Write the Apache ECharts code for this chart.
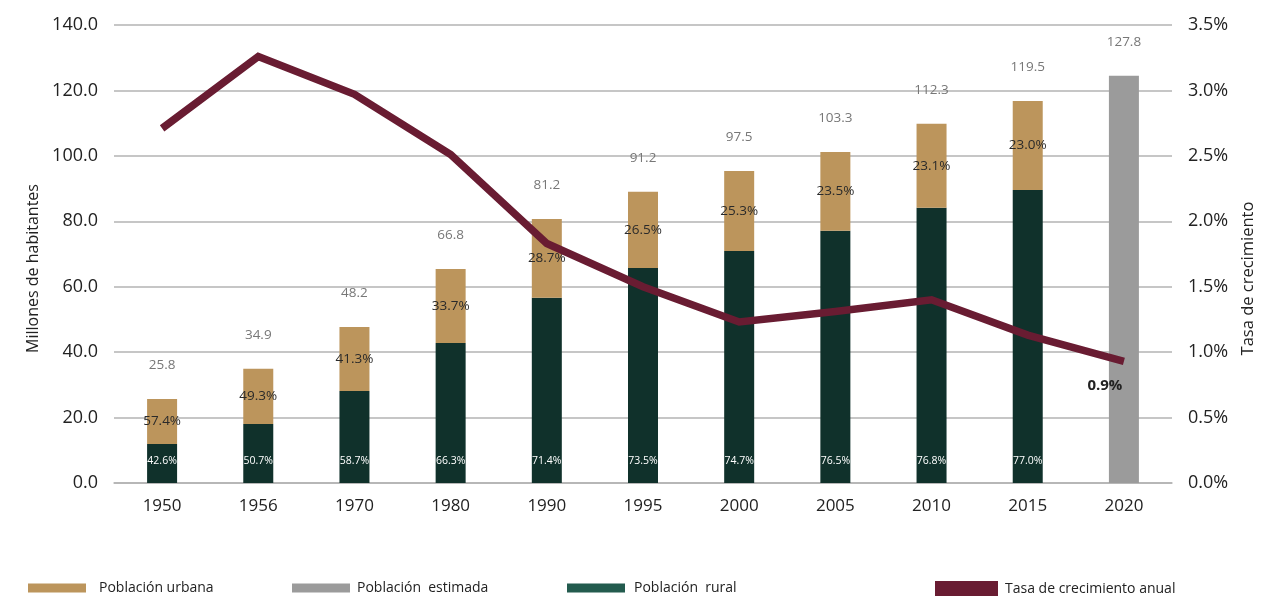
<!DOCTYPE html>
<html>
<head>
<meta charset="utf-8">
<script src="https://cdn.jsdelivr.net/npm/echarts@6/dist/echarts.min.js"></script>
<style>
html,body{margin:0;padding:0;background:#fff;}
#c{width:1277px;height:596px;}
</style>
</head>
<body>
<div id="c"></div>
<script>
// ---- data ----
const years = ['1950','1956','1970','1980','1990','1995','2000','2005','2010','2015','2020'];
const rural = [11.9, 18.0, 28.1, 42.8, 56.6, 65.7, 70.9, 77.1, 84.1, 89.6, null];
const urbana = [13.8, 16.9, 19.6, 22.6, 24.1, 23.3, 24.5, 24.1, 25.7, 27.2, null];
const estimada = [null, null, null, null, null, null, null, null, null, null, 124.5];
const totalLabels = ['25.8','34.9','48.2','66.8','81.2','91.2','97.5','103.3','112.3','119.5','127.8'];
const urbanPct = ['57.4%','49.3%','41.3%','33.7%','28.7%','26.5%','25.3%','23.5%','23.1%','23.0%',''];
const ruralPct = ['42.6%','50.7%','58.7%','66.3%','71.4%','73.5%','74.7%','76.5%','76.8%','77.0%',''];
const tasa = [2.71, 3.26, 2.97, 2.51, 1.83, 1.50, 1.23, 1.31, 1.40, 1.13, 0.93];
const leftTicks = [0, 140, 20];
const rightTicks = [0, 3.5, 0.5];

const FONT = 'Open Sans';
const C_URB = '#BC955C', C_RUR = '#10312B', C_RUR_LEG = '#235B4E', C_EST = '#9B9B9B', C_LINE = '#691C32';

const chart = echarts.init(document.getElementById('c'), null, {renderer:'canvas'});

const tasaData = tasa.map((v,i)=> i===tasa.length-1 ? {
  value: v,
  label: {show:true, position:'bottom', distance:17, offset:[-19,0], formatter: (p)=> p.value.toFixed(1)+'%',
          fontFamily:FONT, fontSize:15, fontWeight:'bold', color:'#222'}
} : v);

const legendBase = (name, left, color, w, h, gap) => ({
  left: left, top: 581, padding: 0, itemWidth: w, itemHeight: h, icon: 'rect',
  data: [{name: name, itemStyle: {color: color}}],
  selectedMode: false,
  textStyle: {fontFamily: FONT, fontSize: 14, color: '#222', padding: [0,0,0,gap]}
});

chart.setOption({
  animation: false,
  textStyle: {fontFamily: FONT},
  legend: [
    legendBase('Población urbana', 28, C_URB, 58, 9, 8),
    legendBase('Población  estimada', 292, C_EST, 58, 9, 2),
    legendBase('Población  rural', 567, C_RUR_LEG, 58, 9, 4),
    legendBase('Tasa de crecimiento anual', 935, C_LINE, 63, 16, 2)
  ],
  grid: {left: 114, right: 105, top: 25, bottom: 113},
  xAxis: {
    type: 'category', data: years,
    axisLine: {show: true, lineStyle: {color: '#b3b3b3', width: 1.5}},
    axisTick: {show: false},
    axisLabel: {fontFamily: FONT, fontSize: 17, color: '#222', margin: 15}
  },
  yAxis: [
    {
      type: 'value', min: leftTicks[0], max: leftTicks[1], interval: leftTicks[2],
      name: 'Millones de habitantes', nameLocation: 'middle', nameGap: 72, nameRotate: 90,
      nameTextStyle: {fontFamily: FONT, fontSize: 16, color: '#222', padding: [0, 29, 0, 0]},
      axisLine: {show: false}, axisTick: {show: false},
      axisLabel: {fontFamily: FONT, fontSize: 18, color: '#222', margin: 16, formatter: v => v.toFixed(1)},
      splitLine: {lineStyle: {color: '#b3b3b3', width: 1.5}}
    },
    {
      type: 'value', min: rightTicks[0], max: rightTicks[1], interval: rightTicks[2],
      name: 'Tasa de crecimiento', nameLocation: 'middle', nameGap: 68, nameRotate: 90,
      nameTextStyle: {fontFamily: FONT, fontSize: 16.5, color: '#222', padding: [0, 49, 0, 0]},
      axisLine: {show: false}, axisTick: {show: false},
      axisLabel: {fontFamily: FONT, fontSize: 18, color: '#222', margin: 16, formatter: v => v.toFixed(1)+'%'},
      splitLine: {show: false}
    }
  ],
  series: [
    {
      name: 'Población  rural', type: 'bar', stack: 'pob', data: rural, barWidth: 30,
      itemStyle: {color: C_RUR},
      label: {show: true, position: 'insideBottom', distance: 16, color: '#fff', fontSize: 10.5, fontFamily: FONT,
              formatter: p => ruralPct[p.dataIndex]}
    },
    {
      name: 'Población urbana', type: 'bar', stack: 'pob', data: urbana, barWidth: 30,
      itemStyle: {color: C_URB},
      label: {show: true, position: 'inside', color: '#2a2a2a', fontSize: 13.5, fontFamily: FONT,
              formatter: p => urbanPct[p.dataIndex]}
    },
    {
      name: 'Población  estimada', type: 'bar', stack: 'pob', data: estimada, barWidth: 30,
      itemStyle: {color: C_EST}
    },
    {
      name: 'totales', type: 'bar', stack: 'pob', barWidth: 30,
      data: years.map(()=>0),
      itemStyle: {color: 'transparent'},
      label: {show: true, position: 'top', distance: 27, color: '#777', fontSize: 13.5, fontFamily: FONT,
              formatter: p => totalLabels[p.dataIndex]},
      tooltip: {show: false}
    },
    {
      name: 'Tasa de crecimiento anual', type: 'line', yAxisIndex: 1, data: tasaData,
      symbol: 'circle', symbolSize: 0, showSymbol: true,
      lineStyle: {color: C_LINE, width: 7.5, join: 'miter'}, itemStyle: {color: C_LINE}
    }
  ]
});
</script>
</body>
</html>
